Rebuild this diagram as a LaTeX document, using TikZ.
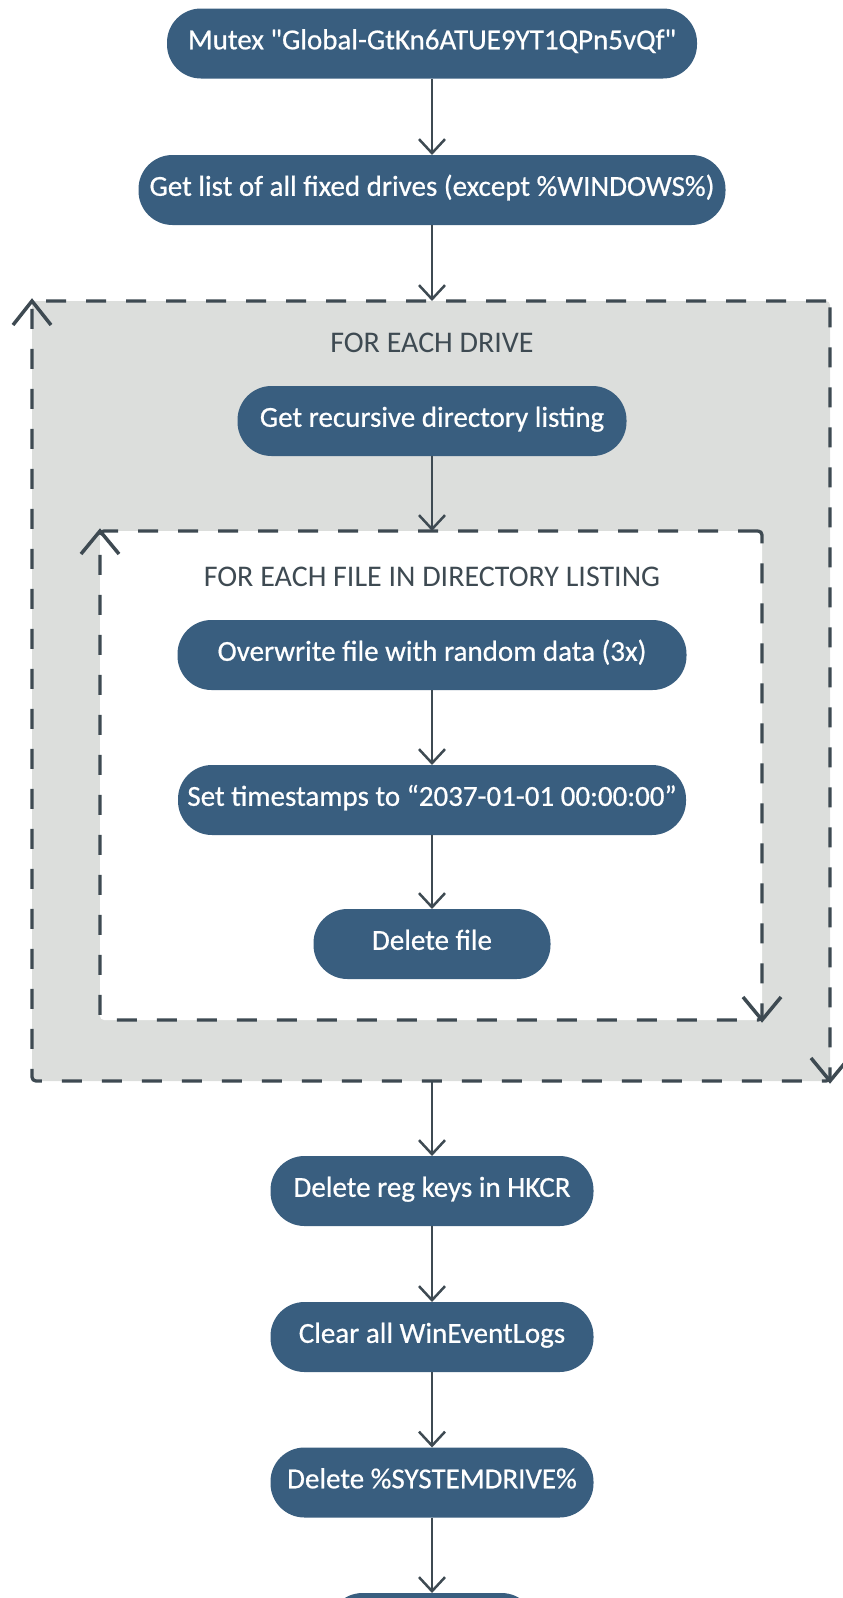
\documentclass[tikz,border=0pt]{standalone}
\usepackage{fontspec}
\setmainfont{Carlito}
\newfontfamily\boxfont{Carlito}[FakeBold=0.6]
\usetikzlibrary{arrows.meta,calc}
\definecolor{boxblue}{HTML}{395E7F}
\definecolor{inkgray}{HTML}{3E4A52}
\definecolor{panelgray}{HTML}{DCDEDC}
\begin{document}
\begin{tikzpicture}[x=1pt,y=-1pt,
  stepbox/.style={shape=rectangle, rounded corners=34pt, fill=boxblue, text=white,
    font=\boxfont\fontsize{29}{33}\selectfont, minimum height=70pt, inner sep=0pt, outer sep=0pt,
    text height=18pt, text depth=6.4pt},
  loopframe/.style={shape=rectangle, draw=inkgray, line width=3.3pt,
    dash pattern=on 20pt off 20pt, rounded corners=4pt, inner sep=0pt, outer sep=0pt},
  flow/.style={draw=inkgray, line width=2.5pt,
    -{Straight Barb[length=14pt, width=26pt, line width=2.5pt]}},
  chev/.style={draw=inkgray, line width=3.5pt},
  looplabel/.style={text=inkgray, font=\fontsize{30}{34}\selectfont, anchor=base, inner sep=0pt}]
\path[use as bounding box, clip] (0,0) rectangle (843,1598);

\node[stepbox, minimum width=530pt] (mutex) at (432,43.5) {Mutex \textquotedbl Global-GtKn6ATUE9YT1QPn5vQf\textquotedbl};
\node[stepbox, minimum width=587pt] (drives) at (432,190) {Get list of all fixed drives (except \%WINDOWS\%)};

\node[loopframe, fill=panelgray, minimum width=798pt, minimum height=780pt] (outer) at (431,691) {};
\node[looplabel] (lbl1) at (432,352.5) {FOR EACH DRIVE};
\node[stepbox, minimum width=389pt] (listing) at (432,421) {Get recursive directory listing};

\node[loopframe, fill=white, minimum width=662pt, minimum height=489pt] (inner) at (431,775.5) {};
\node[looplabel] (lbl2) at (432,586.5) {FOR EACH FILE IN DIRECTORY LISTING};
\node[stepbox, minimum width=509pt] (overwrite) at (432,655) {Overwrite file with random data (3x)};
\node[stepbox, minimum width=508pt] (timestamps) at (432,800) {Set timestamps to “2037-01-01 00:00:00”};
\node[stepbox, minimum width=237pt] (delfile) at (432,944) {Delete file};

\node[stepbox, minimum width=323pt] (regkeys) at (432,1191) {Delete reg keys in HKCR};
\node[stepbox, minimum width=323pt] (evtlogs) at (432,1337) {Clear all WinEventLogs};
\node[stepbox, minimum width=323pt] (sysdrive) at (432,1482.5) {Delete \%SYSTEMDRIVE\%};
\node[stepbox, minimum width=207pt] (last) at (432,1628) {};

\draw[flow] (mutex.south) -- (drives.north);
\draw[flow] (drives.south) -- (drives.south |- outer.north);
\draw[flow] (listing.south) -- (listing.south |- inner.north);
\draw[flow] (overwrite.south) -- (timestamps.north);
\draw[flow] (timestamps.south) -- (delfile.north);
\draw[flow] (regkeys.north |- outer.south) -- (regkeys.north);
\draw[flow] (regkeys.south) -- (evtlogs.north);
\draw[flow] (evtlogs.south) -- (sysdrive.north);
\draw[flow] (sysdrive.south) -- (last.north);

\draw[chev] ($(outer.north west)+(-19,24)$) -- (outer.north west) -- ($(outer.north west)+(19,24)$);
\draw[chev] ($(inner.north west)+(-19,23)$) -- (inner.north west) -- ($(inner.north west)+(19,23)$);
\draw[chev] ($(inner.south east)+(-19,-23)$) -- (inner.south east) -- ($(inner.south east)+(19,-23)$);
\draw[chev] ($(outer.south east)+(-19,-23)$) -- (outer.south east) -- ($(outer.south east)+(19,-23)$);
\end{tikzpicture}
\end{document}
